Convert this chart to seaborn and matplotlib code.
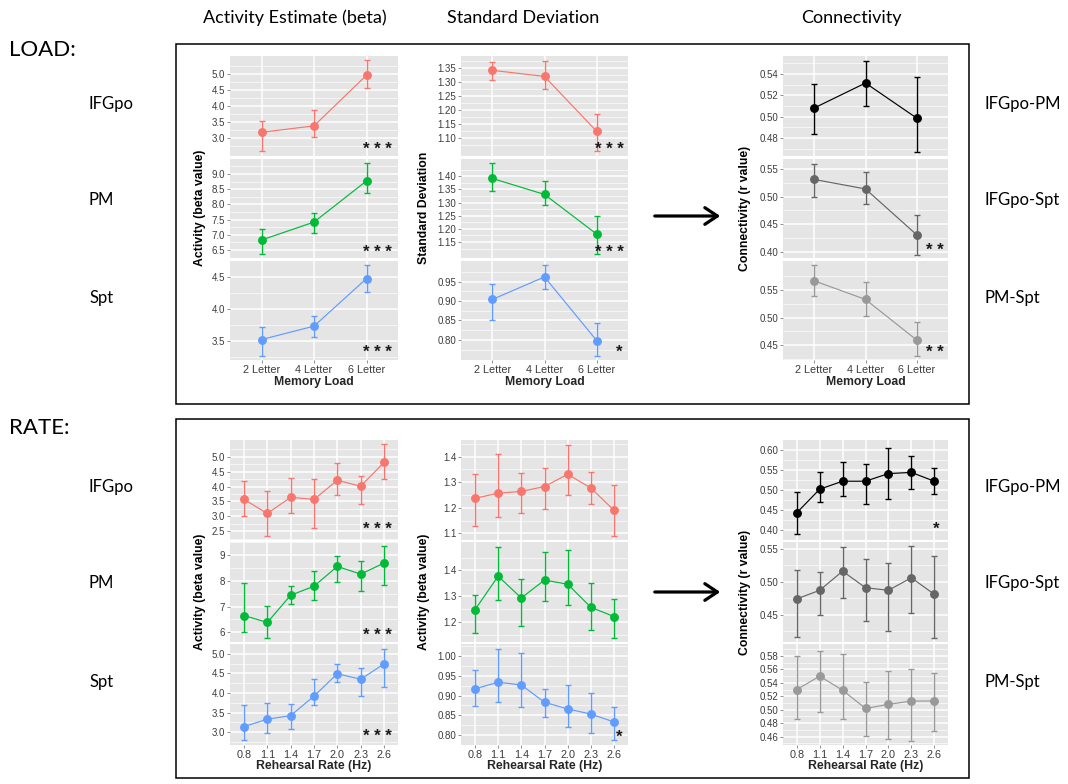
import matplotlib
matplotlib.use("Agg")
import matplotlib.pyplot as plt
import seaborn as sns
import numpy as np
import pandas as pd
from matplotlib.patches import Rectangle, FancyArrowPatch

# ---------------- data ----------------
load_labels = ["2 Letter", "4 Letter", "6 Letter"]
rate_labels = ["0.8", "1.1", "1.4", "1.7", "2.0", "2.3", "2.6"]

# Memory load: activity estimate (mean, lower, upper)
load_act_ifgpo = [3.19, 3.39, 4.97]
load_act_ifgpo_lo = [2.60, 3.05, 4.57]
load_act_ifgpo_hi = [3.54, 3.89, 5.44]
load_act_pm = [6.83, 7.42, 8.77]
load_act_pm_lo = [6.37, 7.05, 8.36]
load_act_pm_hi = [7.18, 7.71, 9.35]
load_act_spt = [3.52, 3.73, 4.475]
load_act_spt_lo = [3.27, 3.56, 4.26]
load_act_spt_hi = [3.71, 3.89, 4.68]

# Memory load: standard deviation
load_sd_ifgpo = [1.343, 1.321, 1.125]
load_sd_ifgpo_lo = [1.310, 1.275, 1.055]
load_sd_ifgpo_hi = [1.373, 1.377, 1.187]
load_sd_pm = [1.392, 1.331, 1.180]
load_sd_pm_lo = [1.344, 1.292, 1.104]
load_sd_pm_hi = [1.450, 1.381, 1.249]
load_sd_spt = [0.904, 0.962, 0.798]
load_sd_spt_lo = [0.850, 0.930, 0.759]
load_sd_spt_hi = [0.945, 0.992, 0.843]

# Memory load: connectivity
load_conn_ifgpo_pm = [0.508, 0.5316, 0.4984]
load_conn_ifgpo_pm_lo = [0.484, 0.5097, 0.4669]
load_conn_ifgpo_pm_hi = [0.531, 0.5525, 0.5369]
load_conn_ifgpo_spt = [0.531, 0.5137, 0.430]
load_conn_ifgpo_spt_lo = [0.4998, 0.4856, 0.3946]
load_conn_ifgpo_spt_hi = [0.559, 0.5446, 0.466]
load_conn_pm_spt = [0.567, 0.533, 0.4585]
load_conn_pm_spt_lo = [0.540, 0.503, 0.4294]
load_conn_pm_spt_hi = [0.595, 0.564, 0.4924]

# Rehearsal rate: activity estimate
rate_act_ifgpo = [3.57, 3.10, 3.64, 3.57, 4.21, 4.01, 4.81]
rate_act_ifgpo_lo = [3.01, 2.36, 3.10, 2.60, 3.71, 3.40, 4.25]
rate_act_ifgpo_hi = [4.20, 3.86, 4.28, 4.25, 4.79, 4.36, 5.41]
rate_act_pm = [6.65, 6.38, 7.44, 7.79, 8.56, 8.26, 8.69]
rate_act_pm_lo = [6.01, 5.79, 7.10, 7.25, 7.97, 7.60, 7.84]
rate_act_pm_hi = [7.90, 7.03, 7.81, 8.40, 8.97, 8.79, 9.34]
rate_act_spt = [3.14, 3.33, 3.42, 3.92, 4.49, 4.35, 4.74]
rate_act_spt_lo = [2.80, 2.97, 3.08, 3.68, 4.27, 3.91, 4.16]
rate_act_spt_hi = [3.70, 3.74, 3.73, 4.35, 4.75, 4.64, 5.13]

# Rehearsal rate: standard deviation
rate_sd_ifgpo = [1.237, 1.257, 1.264, 1.283, 1.331, 1.277, 1.190]
rate_sd_ifgpo_lo = [1.130, 1.163, 1.181, 1.197, 1.249, 1.214, 1.090]
rate_sd_ifgpo_hi = [1.332, 1.410, 1.337, 1.356, 1.444, 1.340, 1.288]
rate_sd_pm = [1.248, 1.378, 1.294, 1.363, 1.347, 1.258, 1.222]
rate_sd_pm_lo = [1.159, 1.285, 1.185, 1.284, 1.267, 1.170, 1.139]
rate_sd_pm_hi = [1.305, 1.492, 1.367, 1.472, 1.480, 1.352, 1.289]
rate_sd_spt = [0.917, 0.934, 0.927, 0.883, 0.866, 0.853, 0.833]
rate_sd_spt_lo = [0.873, 0.884, 0.871, 0.845, 0.819, 0.805, 0.786]
rate_sd_spt_hi = [0.964, 1.019, 1.009, 0.917, 0.926, 0.906, 0.870]

# Rehearsal rate: connectivity
rate_conn_ifgpo_pm = [0.442, 0.501, 0.521, 0.521, 0.540, 0.543, 0.521]
rate_conn_ifgpo_pm_lo = [0.389, 0.468, 0.483, 0.463, 0.476, 0.502, 0.488]
rate_conn_ifgpo_pm_hi = [0.495, 0.543, 0.570, 0.565, 0.604, 0.584, 0.555]
rate_conn_ifgpo_spt = [0.474, 0.487, 0.516, 0.491, 0.487, 0.506, 0.481]
rate_conn_ifgpo_spt_lo = [0.417, 0.450, 0.476, 0.441, 0.426, 0.453, 0.415]
rate_conn_ifgpo_spt_hi = [0.518, 0.514, 0.553, 0.535, 0.528, 0.554, 0.539]
rate_conn_pm_spt = [0.530, 0.550, 0.529, 0.502, 0.508, 0.513, 0.513]
rate_conn_pm_spt_lo = [0.487, 0.497, 0.486, 0.461, 0.456, 0.453, 0.469]
rate_conn_pm_spt_hi = [0.580, 0.588, 0.583, 0.542, 0.557, 0.560, 0.555]

# y tick labels for each panel
yt_load_act = [["3.0", "3.5", "4.0", "4.5", "5.0"],
               ["6.5", "7.0", "7.5", "8.0", "8.5", "9.0"],
               ["3.5", "4.0", "4.5"]]
yt_load_sd = [["1.10", "1.15", "1.20", "1.25", "1.30", "1.35"],
              ["1.15", "1.20", "1.25", "1.30", "1.35", "1.40"],
              ["0.80", "0.85", "0.90", "0.95"]]
yt_load_conn = [["0.48", "0.50", "0.52", "0.54"],
                ["0.40", "0.45", "0.50", "0.55"],
                ["0.45", "0.50", "0.55"]]
yt_rate_act = [["2.5", "3.0", "3.5", "4.0", "4.5", "5.0"],
               ["6", "7", "8", "9"],
               ["3.0", "3.5", "4.0", "4.5", "5.0"]]
yt_rate_sd = [["1.1", "1.2", "1.3", "1.4"],
              ["1.2", "1.3", "1.4"],
              ["0.80", "0.85", "0.90", "0.95", "1.00"]]
yt_rate_conn = [["0.40", "0.45", "0.50", "0.55", "0.60"],
                ["0.45", "0.50", "0.55"],
                ["0.46", "0.48", "0.50", "0.52", "0.54", "0.56", "0.58"]]

region_labels = ["IFGpo", "PM", "Spt"]
pair_labels = ["IFGpo-PM", "IFGpo-Spt", "PM-Spt"]
region_colors = ["#F8766D", "#00BA38", "#619CFF"]
pair_colors = ["#000000", "#666666", "#999999"]

# ---------------- style ----------------
sns.set_style("darkgrid", {"axes.facecolor": "#E5E5E5", "grid.color": "white"})
plt.rcParams["font.family"] = ["Liberation Sans", "DejaVu Sans"]

W, H = 1068, 784
fig = plt.figure(figsize=(W / 100, H / 100), dpi=100)
fig.patch.set_facecolor("white")

TICK_COLOR = "#7F7F7F"
LABEL_COLOR = "#3C3C3C"


def px_axes(x0, x1, y0, y1):
    return fig.add_axes([x0 / W, 1 - y1 / H, (x1 - x0) / W, (y1 - y0) / H])


def draw_panel(ax, labels, mean, lo, hi, ylim, yticks, color, show_x):
    n = len(labels)
    pos = np.arange(n)
    df = pd.DataFrame({"pos": pos, "val": mean})
    ax.errorbar(pos, mean, yerr=[np.subtract(mean, lo), np.subtract(hi, mean)],
                fmt="none", ecolor=color, elinewidth=1.0, capsize=2.2,
                capthick=1.0, zorder=3)
    sns.lineplot(data=df, x="pos", y="val", color=color, marker="o",
                 markersize=6.4, markeredgewidth=0, linewidth=0.85, ax=ax,
                 zorder=4, legend=False)
    ax.set_xlim(-0.6, n - 1 + 0.6)
    ax.set_ylim(*ylim)
    tv = [float(t) for t in yticks]
    ax.set_yticks(tv)
    ax.set_yticklabels(yticks)
    step = tv[1] - tv[0]
    minors = [t + step / 2 for t in [tv[0] - step] + tv]
    ax.set_yticks([m for m in minors if ylim[0] < m < ylim[1]], minor=True)
    ax.set_xticks(pos)
    ax.grid(which="major", color="white", linewidth=1.1)
    ax.grid(which="minor", axis="y", color="white", linewidth=0.45)
    ax.tick_params(axis="y", which="major", labelsize=7.0, colors=TICK_COLOR,
                   labelcolor=LABEL_COLOR, length=2.2, width=0.6, pad=1.2,
                   left=True)
    ax.tick_params(axis="y", which="minor", length=0)
    if show_x:
        ax.set_xticklabels(labels)
        ax.tick_params(axis="x", labelsize=7.8, colors=TICK_COLOR,
                       labelcolor=LABEL_COLOR, length=2.2, width=0.6, pad=1.2,
                       bottom=True)
    else:
        ax.set_xticklabels([])
        ax.tick_params(axis="x", length=0)
    ax.set_xlabel("")
    ax.set_ylabel("")
    for s in ax.spines.values():
        s.set_visible(False)


def stars(ax, text, fx, fy):
    ax.text(fx, fy, text, transform=ax.transAxes, ha="center", va="center",
            fontsize=12, fontweight="bold", color="#1A1A1A", zorder=6)


columns_x = [(230, 398), (461, 628), (783, 948)]
top_rows = [(56, 156), (159, 258), (261, 360)]
bot_rows = [(440, 540), (542, 642), (644, 745)]

load_sets = [
    [(load_act_ifgpo, load_act_ifgpo_lo, load_act_ifgpo_hi, (2.45, 5.57)),
     (load_act_pm, load_act_pm_lo, load_act_pm_hi, (6.24, 9.49)),
     (load_act_spt, load_act_spt_lo, load_act_spt_hi, (3.20, 4.75))],
    [(load_sd_ifgpo, load_sd_ifgpo_lo, load_sd_ifgpo_hi, (1.037, 1.394)),
     (load_sd_pm, load_sd_pm_lo, load_sd_pm_hi, (1.089, 1.466)),
     (load_sd_spt, load_sd_spt_lo, load_sd_spt_hi, (0.748, 1.003))],
    [(load_conn_ifgpo_pm, load_conn_ifgpo_pm_lo, load_conn_ifgpo_pm_hi, (0.463, 0.557)),
     (load_conn_ifgpo_spt, load_conn_ifgpo_spt_lo, load_conn_ifgpo_spt_hi, (0.3885, 0.568)),
     (load_conn_pm_spt, load_conn_pm_spt_lo, load_conn_pm_spt_hi, (0.4227, 0.603))],
]
rate_sets = [
    [(rate_act_ifgpo, rate_act_ifgpo_lo, rate_act_ifgpo_hi, (2.21, 5.56)),
     (rate_act_pm, rate_act_pm_lo, rate_act_pm_hi, (5.62, 9.51)),
     (rate_act_spt, rate_act_spt_lo, rate_act_spt_hi, (2.67, 5.25))],
    [(rate_sd_ifgpo, rate_sd_ifgpo_lo, rate_sd_ifgpo_hi, (1.074, 1.465)),
     (rate_sd_pm, rate_sd_pm_lo, rate_sd_pm_hi, (1.124, 1.51)),
     (rate_sd_spt, rate_sd_spt_lo, rate_sd_spt_hi, (0.7745, 1.031))],
    [(rate_conn_ifgpo_pm, rate_conn_ifgpo_pm_lo, rate_conn_ifgpo_pm_hi, (0.374, 0.624)),
     (rate_conn_ifgpo_spt, rate_conn_ifgpo_spt_lo, rate_conn_ifgpo_spt_hi, (0.4087, 0.5602)),
     (rate_conn_pm_spt, rate_conn_pm_spt_lo, rate_conn_pm_spt_hi, (0.4476, 0.5978))],
]
load_ticks = [yt_load_act, yt_load_sd, yt_load_conn]
rate_ticks = [yt_rate_act, yt_rate_sd, yt_rate_conn]

load_stars = {(0, 0): ("* * *", 0.88, 0.06), (0, 1): ("* * *", 0.88, 0.06),
              (0, 2): ("* * *", 0.88, 0.08), (1, 0): ("* * *", 0.89, 0.06),
              (1, 1): ("* * *", 0.89, 0.06), (1, 2): ("*", 0.95, 0.08),
              (2, 1): ("* *", 0.92, 0.08), (2, 2): ("* *", 0.92, 0.08)}
rate_stars = {(0, 0): ("* * *", 0.88, 0.10), (0, 1): ("* * *", 0.88, 0.06),
              (0, 2): ("* * *", 0.88, 0.08), (1, 2): ("*", 0.95, 0.08),
              (2, 0): ("*", 0.93, 0.11)}

for block, (sets, ticks, rows, labels, star_map) in enumerate([
        (load_sets, load_ticks, top_rows, load_labels, load_stars),
        (rate_sets, rate_ticks, bot_rows, rate_labels, rate_stars)]):
    for c, (x0, x1) in enumerate(columns_x):
        for r, (y0, y1) in enumerate(rows):
            ax = px_axes(x0, x1, y0, y1)
            mean, lo, hi, ylim = sets[c][r]
            color = pair_colors[r] if c == 2 else region_colors[r]
            draw_panel(ax, labels, mean, lo, hi, ylim, ticks[c][r], color,
                       show_x=(r == 2))
            if (c, r) in star_map:
                stars(ax, *star_map[(c, r)])

# axis titles
ylab_bold = dict(fontsize=8.8, fontweight="bold", color="black", rotation=90,
                 ha="center", va="center")
top_ytitles = ["Activity (beta value)", "Standard Deviation", "Connectivity (r value)"]
bot_ytitles = ["Activity (beta value)", "Activity (beta value)", "Connectivity (r value)"]
ytitle_x = [200, 424, 745]
for c in range(3):
    fig.text(ytitle_x[c] / W, 1 - 208 / H, top_ytitles[c], **ylab_bold)
    fig.text(ytitle_x[c] / W, 1 - 592 / H, bot_ytitles[c], **ylab_bold)
    xc = (columns_x[c][0] + columns_x[c][1]) / 2
    fig.text(xc / W, 1 - 382 / H, "Memory Load", fontsize=8.8,
             fontweight="bold", ha="center", va="center")
    fig.text(xc / W, 1 - 766 / H, "Rehearsal Rate (Hz)", fontsize=8.8,
             fontweight="bold", ha="center", va="center")

# frames around the two blocks
for (bx0, by0, bx1, by1) in [(176, 44, 969, 404), (176, 419, 969, 778)]:
    fig.add_artist(Rectangle((bx0 / W, 1 - by1 / H), (bx1 - bx0) / W,
                             (by1 - by0) / H, transform=fig.transFigure,
                             fill=False, edgecolor="black", linewidth=1.1))

# headings
head = dict(family=["Lato", "DejaVu Sans"], color="black")
fig.text(295 / W, 1 - 18 / H, "Activity Estimate (beta)", fontsize=13,
         ha="center", va="center", **head)
fig.text(523 / W, 1 - 18 / H, "Standard Deviation", fontsize=13,
         ha="center", va="center", **head)
fig.text(851 / W, 1 - 18 / H, "Connectivity", fontsize=13,
         ha="center", va="center", **head)
fig.text(9 / W, 1 - 50 / H, "LOAD:", fontsize=16, ha="left", va="center", **head)
fig.text(9 / W, 1 - 428 / H, "RATE:", fontsize=16, ha="left", va="center", **head)

for ys in [(104, 200, 298), (487, 583, 682)]:
    for i, y in enumerate(ys):
        fig.text(89 / W, 1 - y / H, region_labels[i], fontsize=12, ha="left",
                 va="center", **head)
        fig.text(984 / W, 1 - y / H, pair_labels[i], fontsize=12, ha="left",
                 va="center", **head)

# arrows from activity to connectivity
for y in (216, 592):
    fig.add_artist(FancyArrowPatch((652 / W, 1 - y / H), (723 / W, 1 - y / H),
                                   transform=fig.transFigure,
                                   arrowstyle="->,head_length=0.45,head_width=0.3",
                                   mutation_scale=20, linewidth=2.3,
                                   color="black"))

fig.savefig("out.png", dpi=100)
